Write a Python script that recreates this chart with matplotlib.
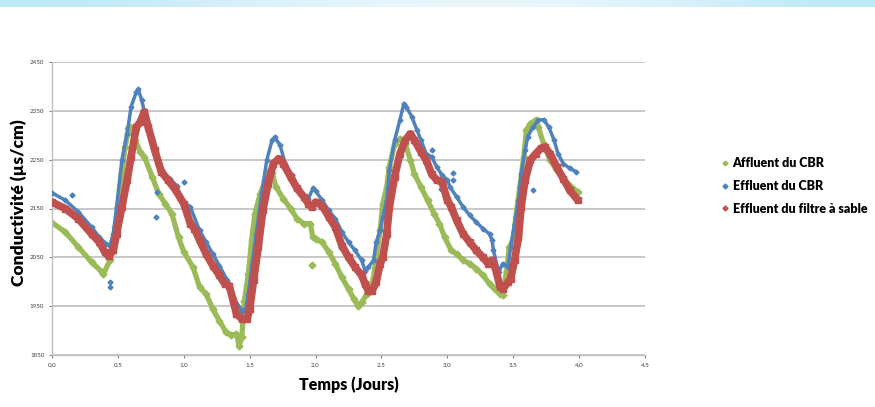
import numpy as np
import matplotlib.pyplot as plt
from matplotlib.colors import LinearSegmentedColormap

# Affluent du CBR (green)
green_t = [0.0, 0.1, 0.2, 0.3, 0.38, 0.39, 0.44, 0.48, 0.5, 0.53, 0.555, 0.58, 0.59, 0.63, 0.67, 0.7,
           0.76, 0.81, 0.86, 0.91, 0.96, 1.0, 1.07, 1.12, 1.17, 1.22, 1.27, 1.32, 1.36, 1.40, 1.42, 1.44,
           1.46, 1.49, 1.515, 1.54, 1.58, 1.62, 1.64, 1.67, 1.70, 1.755, 1.81, 1.86, 1.91, 1.96, 1.98, 2.0,
           2.05, 2.10, 2.15, 2.20, 2.25, 2.29, 2.32, 2.35, 2.39, 2.41, 2.44, 2.46, 2.49, 2.51, 2.54, 2.56,
           2.60, 2.64, 2.68, 2.72, 2.75, 2.80, 2.85, 2.90, 2.94, 2.98, 3.03, 3.07, 3.12, 3.17, 3.22, 3.27,
           3.32, 3.36, 3.40, 3.42, 3.45, 3.47, 3.50, 3.52, 3.55, 3.58, 3.60, 3.63, 3.67, 3.69, 3.73, 3.78,
           3.83, 3.88, 3.93, 3.99]
green_v = [2121, 2102, 2071, 2040, 2020, 2016, 2044, 2112, 2153, 2221, 2276, 2314, 2317, 2290, 2266, 2256,
           2215, 2180, 2160, 2139, 2091, 2061, 2030, 1989, 1975, 1944, 1920, 1897, 1890, 1893, 1869, 1886,
           1961, 2016, 2085, 2139, 2180, 2208, 2225, 2222, 2194, 2170, 2150, 2129, 2119, 2119, 2091, 2088,
           2081, 2061, 2037, 2009, 1985, 1965, 1951, 1958, 1975, 1982, 2009, 2050, 2105, 2160, 2194, 2235,
           2283, 2293, 2283, 2249, 2221, 2194, 2167, 2139, 2119, 2091, 2064, 2057, 2044, 2037, 2027, 2013,
           1996, 1985, 1975, 1972, 2023, 2071, 2085, 2133, 2194, 2256, 2310, 2324, 2331, 2317, 2283, 2249,
           2228, 2211, 2197, 2184]
green_out_t = [1.97]
green_out_v = [2035]

# Effluent du CBR (blue)
blue_t = [0.0, 0.1, 0.2, 0.3, 0.36, 0.41, 0.44, 0.465, 0.49, 0.53, 0.57, 0.60, 0.64, 0.655, 0.68, 0.705,
          0.745, 0.795, 0.845, 0.895, 0.945, 0.985, 1.05, 1.12, 1.17, 1.22, 1.27, 1.33, 1.375, 1.44, 1.47,
          1.49, 1.515, 1.55, 1.59, 1.63, 1.67, 1.69, 1.73, 1.77, 1.82, 1.87, 1.92, 1.945, 1.98, 2.0, 2.05,
          2.10, 2.15, 2.20, 2.25, 2.30, 2.35, 2.375, 2.40, 2.44, 2.46, 2.49, 2.51, 2.54, 2.56, 2.60, 2.64,
          2.67, 2.69, 2.73, 2.77, 2.80, 2.84, 2.88, 2.92, 2.96, 3.0, 3.02, 3.07, 3.12, 3.17, 3.22, 3.27,
          3.32, 3.34, 3.35, 3.39, 3.42, 3.46, 3.48, 3.51, 3.54, 3.56, 3.59, 3.61, 3.65, 3.69, 3.73, 3.77,
          3.81, 3.84, 3.88, 3.93, 3.98]
blue_v = [2182, 2167, 2143, 2112, 2091, 2078, 2074, 2098, 2153, 2249, 2303, 2358, 2389, 2394, 2372, 2345,
          2297, 2249, 2225, 2211, 2197, 2167, 2153, 2105, 2081, 2057, 2033, 2003, 1968, 1941, 1945,
          1975, 2030, 2098, 2180, 2249, 2290, 2296, 2280, 2242, 2218, 2194, 2174, 2170, 2191, 2186, 2167,
          2146, 2129, 2102, 2081, 2064, 2044, 2023, 2030, 2044, 2081, 2105, 2133, 2167, 2228, 2290, 2331,
          2365, 2358, 2338, 2310, 2290, 2262, 2256, 2235, 2218, 2208, 2194, 2174, 2153, 2136, 2122, 2109,
          2098, 2085, 2064, 2020, 2037, 2030, 2071, 2119, 2167, 2221, 2269, 2297, 2317, 2331, 2332, 2317,
          2290, 2262, 2242, 2232, 2225]
blue_out_t = [0.15, 0.44, 0.44, 0.79, 0.80, 1.0, 2.88, 2.95, 3.04, 3.04, 3.65]
blue_out_v = [2177, 2000, 1990, 2132, 2184, 2204, 2269, 2190, 2222, 2208, 2187]

# Effluent du filtre à sable (red)
red_t = [0.0, 0.1, 0.2, 0.3, 0.36, 0.40, 0.43, 0.465, 0.49, 0.53, 0.57, 0.60, 0.64, 0.67, 0.70, 0.73,
         0.78, 0.83, 0.88, 0.93, 1.0, 1.05, 1.08, 1.12, 1.17, 1.22, 1.27, 1.31, 1.345, 1.375, 1.40, 1.44,
         1.48, 1.50, 1.53, 1.565, 1.60, 1.64, 1.68, 1.72, 1.755, 1.81, 1.86, 1.91, 1.945, 1.97, 2.0, 2.05,
         2.10, 2.15, 2.20, 2.25, 2.30, 2.35, 2.375, 2.40, 2.43, 2.46, 2.49, 2.51, 2.54, 2.56, 2.60, 2.64,
         2.68, 2.72, 2.75, 2.80, 2.84, 2.88, 2.92, 2.96, 3.0, 3.03, 3.07, 3.12, 3.17, 3.22, 3.27, 3.31,
         3.34, 3.37, 3.40, 3.42, 3.46, 3.48, 3.51, 3.54, 3.56, 3.59, 3.63, 3.67, 3.71, 3.74, 3.78, 3.83,
         3.88, 3.93, 3.99]
red_v = [2163, 2150, 2129, 2098, 2081, 2061, 2052, 2064, 2098, 2153, 2208, 2256, 2317, 2327, 2348, 2317,
         2269, 2225, 2208, 2191, 2160, 2119, 2109, 2085, 2057, 2033, 2013, 1996, 1992, 1961, 1934, 1924,
         1924, 1944, 2003, 2071, 2146, 2201, 2242, 2252, 2242, 2215, 2191, 2174, 2160, 2153, 2163, 2156,
         2133, 2112, 2074, 2050, 2030, 2013, 1996, 1982, 1982, 1999, 2037, 2050, 2098, 2153, 2215, 2262,
         2290, 2303, 2290, 2266, 2249, 2221, 2208, 2204, 2167, 2153, 2126, 2098, 2081, 2064, 2050, 2037,
         2044, 2023, 1989, 1985, 1999, 2006, 2044, 2091, 2153, 2208, 2249, 2262, 2273, 2276, 2262, 2235,
         2211, 2187, 2167]

labels = ['Affluent du CBR', 'Effluent du CBR', 'Effluent du filtre à sable']
c_green, c_blue, c_red = '#9BBB59', '#4F81BD', '#C0504D'

plt.rcParams['font.family'] = ['Lato', 'DejaVu Sans']
fig = plt.figure(figsize=(8.75, 4.07), dpi=100)

# light blue banner at the top
band = fig.add_axes([0, 1 - 7/407, 1, 7/407])
grad = np.array([[0.0, 0.3, 0.7, 0.9, 1.0, 0.85, 0.5, 0.0]])
cmap = LinearSegmentedColormap.from_list('b', ['#BCE8F8', '#EAF7FC'])
band.imshow(grad, aspect='auto', cmap=cmap, extent=[0, 1, 0, 1], interpolation='bicubic')
band.axis('off')

ax = fig.add_axes([52/875, 52/407, 593/875, 293/407])

ax.plot(green_t, green_v, '-', color=c_green, lw=3.8, solid_capstyle='round', zorder=2)
ax.plot(green_t, green_v, 'D', color=c_green, ms=3.5, zorder=2)
ax.plot(green_out_t, green_out_v, 'D', color=c_green, ms=3.5, zorder=2)
ax.plot(blue_t, blue_v, '-', color=c_blue, lw=2.5, solid_capstyle='round', zorder=3)
ax.plot(blue_t, blue_v, 'D', color=c_blue, ms=2.5, zorder=3)
ax.plot(blue_out_t, blue_out_v, 'D', color=c_blue, ms=2.5, zorder=3)
ax.plot(red_t, red_v, '-', color=c_red, lw=5.5, solid_capstyle='round', zorder=4)
ax.plot(red_t, red_v, 's', color=c_red, ms=4, zorder=4)

ax.set_xlim(0, 4.5)
ax.set_ylim(1850, 2450)
ax.set_xticks(np.arange(0, 4.51, 0.5))
ax.set_xticklabels(['{:.1f}'.format(x) for x in np.arange(0, 4.51, 0.5)])
ax.set_yticks(np.arange(1850, 2451, 100))
ax.tick_params(labelsize=4.5, colors='#7F7F7F', labelcolor='#404040', length=2, width=0.8)
ax.yaxis.grid(True, color='#BFBFBF', lw=1.2)
ax.set_axisbelow(True)
for s in ['top', 'right']:
    ax.spines[s].set_visible(False)
for s in ['left', 'bottom']:
    ax.spines[s].set_color('#BFBFBF')
    ax.spines[s].set_linewidth(1.0)

ax.set_xlabel('Temps (Jours)', fontsize=11.5, fontweight='heavy')
ax.set_ylabel('Conductivité (µs/cm)', fontsize=12.5, fontweight='heavy')
ax.xaxis.set_label_coords(0.5, -0.072)
ax.yaxis.set_label_coords(-0.042, 0.52)

handles = [plt.Line2D([], [], ls='', marker='D', ms=2.5, color=c) for c in (c_green, c_blue, c_red)]
fig.legend(handles, labels, loc='center left', bbox_to_anchor=(0.818, 0.543), frameon=False,
           prop={'weight': 'heavy', 'size': 9}, handletextpad=0.25, labelspacing=0.85,
           handlelength=0.7, borderaxespad=0)

fig.savefig('out.png', dpi=100)
